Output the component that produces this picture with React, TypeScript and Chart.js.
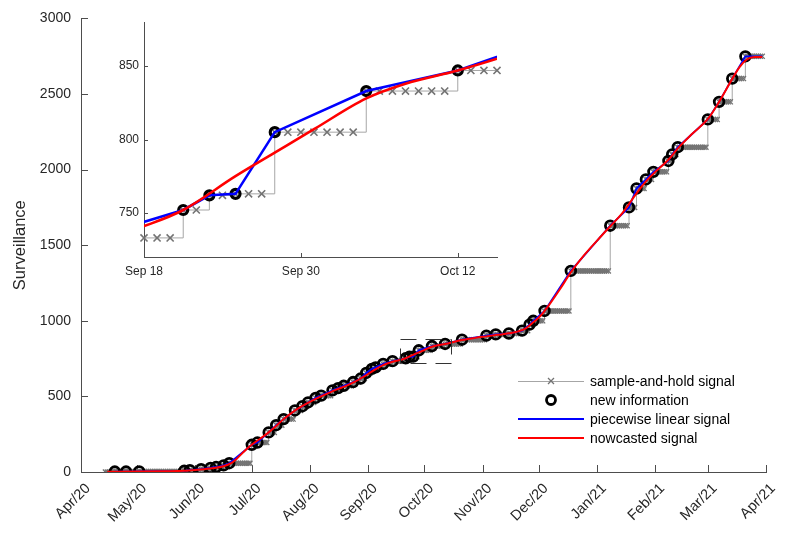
import React, { useEffect, useRef } from 'react';
import { Chart, registerables } from 'chart.js';

Chart.register(...registerables);

// ---------------- data ----------------
const originDate = '2020-04-01';

const monthTickDates = [
  '2020-04-01', '2020-05-01', '2020-06-01', '2020-07-01', '2020-08-01', '2020-09-01',
  '2020-10-01', '2020-11-01', '2020-12-01', '2021-01-01', '2021-02-01', '2021-03-01', '2021-04-01',
];
const monthTickLabels = [
  'Apr/20', 'May/20', 'Jun/20', 'Jul/20', 'Aug/20', 'Sep/20',
  'Oct/20', 'Nov/20', 'Dec/20', 'Jan/21', 'Feb/21', 'Mar/21', 'Apr/21',
];
const yAxisMin = 0;
const yAxisMax = 3000;
const yAxisStep = 500;
const yAxisTitle = 'Surveillance';

// new information (circles)
const newInfoDates = [
  '2020-04-19', '2020-04-25', '2020-05-02', '2020-05-26', '2020-05-29', '2020-06-04',
  '2020-06-09', '2020-06-12', '2020-06-16', '2020-06-19', '2020-07-01', '2020-07-04',
  '2020-07-10', '2020-07-14', '2020-07-18', '2020-07-24', '2020-07-28', '2020-07-31',
  '2020-08-04', '2020-08-07', '2020-08-13', '2020-08-16', '2020-08-19', '2020-08-24',
  '2020-08-28', '2020-08-31', '2020-09-03', '2020-09-05', '2020-09-09', '2020-09-14',
  '2020-09-21', '2020-09-23', '2020-09-25', '2020-09-28', '2020-10-05', '2020-10-12',
  '2020-10-21', '2020-11-03', '2020-11-08', '2020-11-15', '2020-11-22', '2020-11-26',
  '2020-11-28', '2020-12-04', '2020-12-18', '2021-01-08', '2021-01-18', '2021-01-22',
  '2021-01-27', '2021-01-31', '2021-02-08', '2021-02-10', '2021-02-13', '2021-03-01',
  '2021-03-07', '2021-03-14', '2021-03-21',
];
const newInfoValues = [
  3, 3, 4, 8, 12, 19,
  27, 33, 44, 58, 180, 195,
  262, 310, 350, 407, 435, 460,
  490, 505, 540, 555, 570, 595,
  618, 655, 682, 692, 715, 733,
  752, 762, 763, 805, 833, 847,
  875, 902, 910, 916, 935, 975,
  1000, 1065, 1330, 1629, 1750, 1875,
  1935, 1985, 2057, 2100, 2148, 2332,
  2448, 2602, 2749,
];

// sample-and-hold signal: daily, holding the latest new information
const holdStartDate = '2020-04-14';
const holdEndDate = '2021-03-30';
const holdInitialValue = 0;

// piecewise linear signal runs through the new information, held to the end date
const linearEndDate = '2021-03-30';

// nowcasted signal
const nowcastDates = [
  '2020-04-15', '2020-05-01', '2020-05-16', '2020-05-26', '2020-06-02', '2020-06-10',
  '2020-06-16', '2020-06-20', '2020-06-23', '2020-06-26', '2020-06-29', '2020-07-02',
  '2020-07-06', '2020-07-10', '2020-07-14', '2020-07-18', '2020-07-23', '2020-07-28',
  '2020-08-03', '2020-08-09', '2020-08-15', '2020-08-20', '2020-08-25', '2020-08-30',
  '2020-09-04', '2020-09-09', '2020-09-14', '2020-09-18', '2020-09-21', '2020-09-25',
  '2020-09-28', '2020-10-01', '2020-10-05', '2020-10-08', '2020-10-12', '2020-10-15',
  '2020-10-21', '2020-10-28', '2020-11-03', '2020-11-09', '2020-11-15', '2020-11-20',
  '2020-11-24', '2020-11-28', '2020-12-02', '2020-12-07', '2020-12-12', '2020-12-18',
  '2020-12-25', '2021-01-01', '2021-01-08', '2021-01-14', '2021-01-19', '2021-01-23',
  '2021-01-28', '2021-02-01', '2021-02-08', '2021-02-13', '2021-02-21', '2021-03-01',
  '2021-03-07', '2021-03-14', '2021-03-18', '2021-03-22', '2021-03-26', '2021-03-30',
];
const nowcastValues = [
  2, 3, 5, 8, 15, 25,
  38, 58, 88, 125, 160, 190,
  225, 262, 305, 350, 398, 437,
  477, 512, 545, 568, 597, 633,
  672, 707, 729, 741, 752, 775,
  791, 807, 828, 838, 847, 855,
  873, 887, 897, 907, 917, 930,
  950, 990, 1035, 1115, 1205, 1320,
  1432, 1530, 1625, 1705, 1790, 1860,
  1935, 1985, 2065, 2140, 2240, 2335,
  2448, 2600, 2680, 2730, 2744, 2745,
];

// inset (zoomed view)
const insetXRange = ['2020-09-18', '2020-10-15'];
const insetYRange = [720, 880];
const insetTickDates = ['2020-09-18', '2020-09-30', '2020-10-12'];
const insetTickLabels = ['Sep 18', 'Sep 30', 'Oct 12'];
const insetYTicks = [750, 800, 850];

const legendLabels = [
  'sample-and-hold signal',
  'new information',
  'piecewise linear signal',
  'nowcasted signal',
];

// ---------------- helpers ----------------
const FONT = "'Liberation Sans', Arial, Helvetica, sans-serif";
const DAY_MS = 86400000;
function dayOf(s: string): number {
  const [y, m, d] = s.split('-').map(Number);
  const [oy, om, od] = originDate.split('-').map(Number);
  return Math.round((Date.UTC(y, m - 1, d) - Date.UTC(oy, om - 1, od)) / DAY_MS);
}

const infoPoints = newInfoDates.map((d, i) => ({ x: dayOf(d), y: newInfoValues[i] }));
const linearPoints = [
  ...infoPoints,
  { x: dayOf(linearEndDate), y: newInfoValues[newInfoValues.length - 1] },
];
const nowcastPoints = nowcastDates.map((d, i) => ({ x: dayOf(d), y: nowcastValues[i] }));

function holdPoints(fromDate: string, toDate: string) {
  const pts: { x: number; y: number }[] = [];
  const a = dayOf(fromDate);
  const b = dayOf(toDate);
  for (let d = a; d <= b; d++) {
    let v = holdInitialValue;
    for (const p of infoPoints) if (p.x <= d) v = p.y;
    pts.push({ x: d, y: v });
  }
  return pts;
}

function buildDatasets(inset: boolean) {
  const hold = inset ? holdPoints(insetXRange[0], insetXRange[1]) : holdPoints(holdStartDate, holdEndDate);
  return [
    {
      label: legendLabels[3],
      data: nowcastPoints,
      borderColor: '#ff0000',
      borderWidth: inset ? 2.6 : 2,
      pointRadius: 0,
      cubicInterpolationMode: 'monotone',
      fill: false,
    },
    {
      label: legendLabels[2],
      data: linearPoints,
      borderColor: '#0000ff',
      borderWidth: inset ? 2.6 : 1.8,
      pointRadius: 0,
      tension: 0,
      fill: false,
    },
    {
      label: legendLabels[1],
      data: infoPoints,
      showLine: false,
      pointStyle: 'circle',
      pointRadius: inset ? 4.5 : 4.8,
      pointBorderWidth: inset ? 3.2 : 2.8,
      pointBorderColor: '#000000',
      pointBackgroundColor: 'rgba(255,255,255,0)',
    },
    {
      label: legendLabels[0],
      data: hold,
      stepped: 'before',
      borderColor: '#a6a6a6',
      borderWidth: 1,
      pointStyle: 'crossRot',
      pointRadius: inset ? 5 : 3.6,
      pointBorderWidth: inset ? 1.6 : 1.3,
      pointBorderColor: '#737373',
      pointBackgroundColor: '#737373',
      fill: false,
      clip: inset ? false : undefined,
    },
  ];
}

function inwardTicks(len: number, color: string) {
  return {
    id: 'inwardTicks',
    beforeDatasetsDraw(chart: any) {
      const { ctx, chartArea } = chart;
      const xs = chart.scales.x;
      const ys = chart.scales.y;
      ctx.save();
      ctx.strokeStyle = color;
      ctx.lineWidth = 1;
      ctx.beginPath();
      xs.ticks.forEach((t: any) => {
        const px = Math.round(xs.getPixelForValue(t.value)) + 0.5;
        ctx.moveTo(px, chartArea.bottom);
        ctx.lineTo(px, chartArea.bottom - len);
      });
      ys.ticks.forEach((t: any) => {
        const py = Math.round(ys.getPixelForValue(t.value)) + 0.5;
        ctx.moveTo(chartArea.left, py);
        ctx.lineTo(chartArea.left + len, py);
      });
      ctx.stroke();
      ctx.restore();
    },
  };
}

const insetFrame = {
  id: 'insetFrame',
  afterDatasetsDraw(chart: any) {
    const { ctx } = chart;
    const xs = chart.scales.x;
    const ys = chart.scales.y;
    const x0 = xs.getPixelForValue(dayOf(insetXRange[0]));
    const x1 = xs.getPixelForValue(dayOf(insetXRange[1]));
    const y0 = ys.getPixelForValue(insetYRange[0]);
    const y1 = ys.getPixelForValue(insetYRange[1]);
    ctx.save();
    ctx.strokeStyle = '#333333';
    ctx.lineWidth = 1;
    ctx.setLineDash([16, 9]);
    ctx.strokeRect(Math.round(x0) + 0.5, Math.round(y1) + 0.5, Math.round(x1 - x0), Math.round(y0 - y1));
    ctx.restore();
  },
};

const customLegend = {
  id: 'customLegend',
  afterDraw(chart: any) {
    const { ctx } = chart;
    const lx0 = 518;
    const lx1 = 584;
    const mx = (lx0 + lx1) / 2;
    const tx = 590;
    const rows = [381, 400, 419, 438];
    ctx.save();
    // sample-and-hold
    ctx.strokeStyle = '#a6a6a6';
    ctx.lineWidth = 1;
    ctx.beginPath();
    ctx.moveTo(lx0, rows[0] + 0.5);
    ctx.lineTo(lx1, rows[0] + 0.5);
    ctx.stroke();
    ctx.strokeStyle = '#737373';
    ctx.lineWidth = 1.3;
    ctx.beginPath();
    const r = 3;
    ctx.moveTo(mx - r, rows[0] - r);
    ctx.lineTo(mx + r, rows[0] + r);
    ctx.moveTo(mx - r, rows[0] + r);
    ctx.lineTo(mx + r, rows[0] - r);
    ctx.stroke();
    // new information
    ctx.strokeStyle = '#000000';
    ctx.lineWidth = 2.8;
    ctx.beginPath();
    ctx.arc(mx, rows[1], 4.5, 0, Math.PI * 2);
    ctx.stroke();
    // piecewise linear
    ctx.strokeStyle = '#0000ff';
    ctx.lineWidth = 2;
    ctx.beginPath();
    ctx.moveTo(lx0, rows[2]);
    ctx.lineTo(lx1, rows[2]);
    ctx.stroke();
    // nowcast
    ctx.strokeStyle = '#ff0000';
    ctx.beginPath();
    ctx.moveTo(lx0, rows[3]);
    ctx.lineTo(lx1, rows[3]);
    ctx.stroke();
    // labels
    ctx.fillStyle = '#000000';
    ctx.font = `14px ${FONT}`;
    ctx.textAlign = 'left';
    ctx.textBaseline = 'middle';
    legendLabels.forEach((t, i) => ctx.fillText(t, tx, rows[i] + 1));
    ctx.restore();
  },
};

const monthTickDays = monthTickDates.map(dayOf);
const insetTickDays = insetTickDates.map(dayOf);

function mainConfig(): any {
  return {
    type: 'line',
    data: { datasets: buildDatasets(false) },
    options: {
      animation: false,
      responsive: false,
      devicePixelRatio: 1,
      events: [],
      layout: { padding: { top: 17, right: 34, left: 0, bottom: 0 } },
      plugins: { legend: { display: false }, tooltip: { enabled: false } },
      scales: {
        x: {
          type: 'linear',
          min: monthTickDays[0],
          max: monthTickDays[monthTickDays.length - 1],
          afterBuildTicks: (s: any) => {
            s.ticks = monthTickDays.map((v) => ({ value: v }));
          },
          afterFit: (s: any) => {
            s.height = 69;
          },
          grid: { display: false, drawTicks: false },
          border: { display: true, color: '#4d4d4d', width: 1 },
          ticks: {
            autoSkip: false,
            minRotation: 45,
            maxRotation: 45,
            padding: 8,
            labelOffset: 7,
            color: '#262626',
            font: { family: FONT, size: 14.5 },
            callback: (v: any) => {
              const i = monthTickDays.indexOf(Number(v));
              return i >= 0 ? monthTickLabels[i] : '';
            },
          },
        },
        y: {
          type: 'linear',
          min: yAxisMin,
          max: yAxisMax,
          afterFit: (s: any) => {
            s.width = 81;
          },
          grid: { display: false, drawTicks: false },
          border: { display: true, color: '#4d4d4d', width: 1 },
          ticks: {
            stepSize: yAxisStep,
            padding: 10,
            color: '#262626',
            font: { family: FONT, size: 14 },
            callback: (v: any) => String(v),
          },
          title: {
            display: true,
            text: yAxisTitle,
            color: '#262626',
            font: { family: FONT, size: 16.5 },
            padding: { top: 11, bottom: 0 },
          },
        },
      },
    },
    plugins: [inwardTicks(7, '#4d4d4d'), insetFrame, customLegend],
  };
}

function insetConfig(): any {
  return {
    type: 'line',
    data: { datasets: buildDatasets(true) },
    options: {
      animation: false,
      responsive: false,
      devicePixelRatio: 1,
      events: [],
      layout: { padding: { top: 22, right: 23, left: 0, bottom: 0 } },
      plugins: { legend: { display: false }, tooltip: { enabled: false } },
      scales: {
        x: {
          type: 'linear',
          min: dayOf(insetXRange[0]),
          max: dayOf(insetXRange[1]),
          afterBuildTicks: (s: any) => {
            s.ticks = insetTickDays.map((v) => ({ value: v }));
          },
          afterFit: (s: any) => {
            s.height = 28;
          },
          grid: { display: false, drawTicks: false },
          border: { display: true, color: '#4d4d4d', width: 1 },
          ticks: {
            autoSkip: false,
            maxRotation: 0,
            minRotation: 0,
            padding: 7,
            color: '#262626',
            font: { family: FONT, size: 12 },
            callback: (v: any) => {
              const i = insetTickDays.indexOf(Number(v));
              return i >= 0 ? insetTickLabels[i] : '';
            },
          },
        },
        y: {
          type: 'linear',
          min: insetYRange[0],
          max: insetYRange[1],
          afterBuildTicks: (s: any) => {
            s.ticks = insetYTicks.map((v) => ({ value: v }));
          },
          afterFit: (s: any) => {
            s.width = 44;
          },
          grid: { display: false, drawTicks: false },
          border: { display: true, color: '#4d4d4d', width: 1 },
          ticks: {
            padding: 5,
            color: '#262626',
            font: { family: FONT, size: 12 },
            callback: (v: any) => String(v),
          },
        },
      },
    },
    plugins: [inwardTicks(4, '#4d4d4d')],
  };
}

export default function App() {
  const mainRef = useRef<HTMLCanvasElement>(null);
  const insetRef = useRef<HTMLCanvasElement>(null);

  useEffect(() => {
    const main = new Chart(mainRef.current as HTMLCanvasElement, mainConfig());
    const inset = new Chart(insetRef.current as HTMLCanvasElement, insetConfig());
    return () => {
      main.destroy();
      inset.destroy();
    };
  }, []);

  return (
    <div style={{ position: 'absolute', left: 0, top: 0, width: 800, height: 541, background: '#ffffff' }}>
      <canvas
        ref={mainRef}
        width={800}
        height={541}
        style={{ position: 'absolute', left: 0, top: 0, width: 800, height: 541 }}
      />
      <canvas
        ref={insetRef}
        width={420}
        height={285}
        style={{ position: 'absolute', left: 100, top: 0, width: 420, height: 285 }}
      />
    </div>
  );
}
